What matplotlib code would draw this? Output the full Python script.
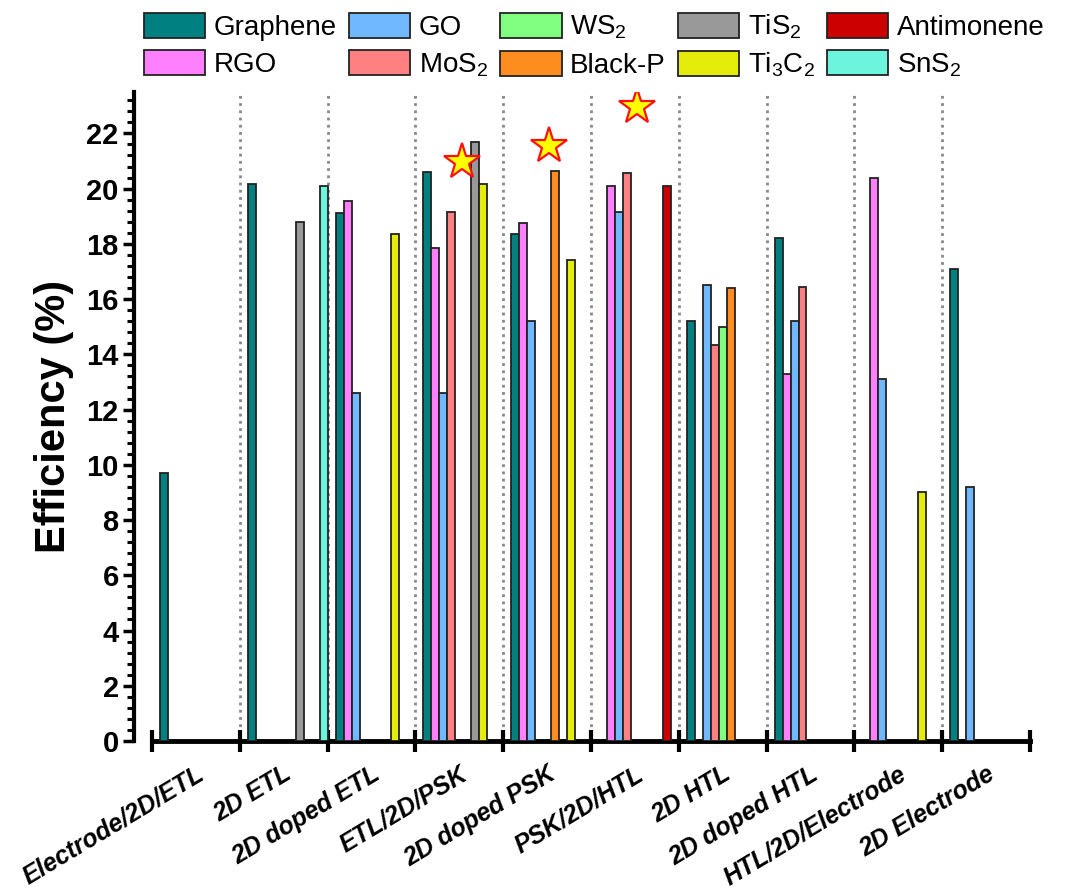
import matplotlib.pyplot as plt
import numpy as np
from matplotlib.ticker import MultipleLocator, FixedLocator, NullFormatter, FixedFormatter

plt.rcParams['font.family'] = ['Liberation Sans', 'DejaVu Sans']
plt.rcParams['mathtext.default'] = 'regular'

nan = np.nan

categories = ['Electrode/2D/ETL', '2D ETL', '2D doped ETL', 'ETL/2D/PSK', '2D doped PSK',
              'PSK/2D/HTL', '2D HTL', '2D doped HTL', 'HTL/2D/Electrode', '2D Electrode']

# efficiency (%) per category, nan = no data
graphene   = [9.7, 20.15, 19.1, 20.6, 18.35, nan, 15.2, 18.2, nan, 17.1]
rgo        = [nan, nan, 19.55, 17.85, 18.75, 20.1, nan, 13.3, 20.4, nan]
go         = [nan, nan, 12.6, 12.6, 15.2, 19.15, 16.5, 15.2, 13.1, 9.2]
mos2       = [nan, nan, nan, 19.15, nan, 20.55, 14.35, 16.45, nan, nan]
ws2        = [nan, nan, nan, nan, nan, nan, 15.0, nan, nan, nan]
black_p    = [nan, nan, nan, nan, 20.65, nan, 16.4, nan, nan, nan]
tis2       = [nan, 18.8, nan, 21.7, nan, nan, nan, nan, nan, nan]
ti3c2      = [nan, nan, 18.35, 20.15, 17.4, nan, nan, nan, 9.0, nan]
antimonene = [nan, nan, nan, nan, nan, 20.1, nan, nan, nan, nan]
sns2       = [nan, 20.1, nan, nan, nan, nan, nan, nan, nan, nan]

# record values marked with stars
star_x = [3.53, 4.52, 5.52]
star_y = [20.98, 21.56, 22.97]

series = [
    ('Graphene', graphene, '#008080'),
    ('RGO', rgo, '#FF80FF'),
    ('GO', go, '#70B8FF'),
    ('MoS$_2$', mos2, '#FF8080'),
    ('WS$_2$', ws2, '#80FF80'),
    ('Black-P', black_p, '#FF8C1E'),
    ('TiS$_2$', tis2, '#999999'),
    ('Ti$_3$C$_2$', ti3c2, '#E6EC0A'),
    ('Antimonene', antimonene, '#CC0000'),
    ('SnS$_2$', sns2, '#6CF5DC'),
]

fig = plt.figure(figsize=(10.86, 8.92), dpi=100)
ax = fig.add_axes([0.14, 0.1693, 0.8084, 0.7276])

nslots = 11
w = 1.0 / nslots
idx = np.arange(len(categories))

for k, (name, vals, col) in enumerate(series):
    slot = k + 1
    ax.bar(idx + slot * w, vals, w, align='edge', color=col, edgecolor='#222222',
           linewidth=1.3, label=name, zorder=3)

# dotted separators
for b in range(1, len(categories)):
    ax.axvline(b, color='#888888', linestyle=(0, (1, 1.6)), linewidth=2, zorder=1)

ax.plot(star_x, star_y, linestyle='none', marker='*', markersize=27,
        markerfacecolor='#FFFF00', markeredgecolor='#FF1010', markeredgewidth=1.6, zorder=4)

ax.set_xlim(0, 10)
ax.set_ylim(0, 23.5)

for s in ['top', 'right']:
    ax.spines[s].set_visible(False)
ax.spines['left'].set_position(('outward', 13))
ax.spines['left'].set_linewidth(3)
ax.spines['bottom'].set_linewidth(3.5)

ax.yaxis.set_major_locator(MultipleLocator(2))
ax.yaxis.set_minor_locator(MultipleLocator(0.4))
ax.tick_params(axis='y', which='major', direction='out', length=8, width=2.5,
               labelsize=21, pad=3)
ax.tick_params(axis='y', which='minor', direction='out', length=5, width=2.2)
for t in ax.get_yticklabels():
    t.set_fontweight('bold')

ax.xaxis.set_major_locator(FixedLocator(np.arange(0, 11)))
ax.xaxis.set_major_formatter(NullFormatter())
ax.xaxis.set_minor_locator(FixedLocator(idx + 0.5))
ax.xaxis.set_minor_formatter(FixedFormatter(categories))
ax.tick_params(axis='x', which='major', direction='inout', length=16, width=3)
ax.tick_params(axis='x', which='minor', length=0, pad=15, labelsize=18)
for t in ax.xaxis.get_minorticklabels():
    t.set_rotation(31)
    t.set_ha('right')
    t.set_va('top')
    t.set_rotation_mode('anchor')
    t.set_fontweight('bold')
    t.set_fontstyle('italic')

ax.set_ylabel('Efficiency (%)', fontsize=30, fontweight='bold', labelpad=9)

ax.legend(ncol=5, loc='lower left', bbox_to_anchor=(-0.012, 1.015), frameon=False,
          fontsize=20, handlelength=2.2, handleheight=1.0, handletextpad=0.3,
          columnspacing=0.45, labelspacing=0.35, borderaxespad=0.0, borderpad=0.1)

fig.savefig('out.png', dpi=100)
